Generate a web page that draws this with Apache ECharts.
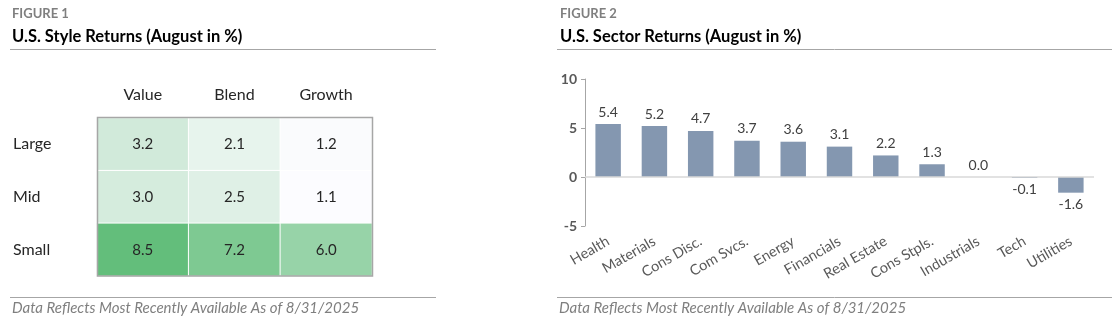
<!DOCTYPE html>
<html>
<head>
<meta charset="utf-8">
<script src="https://cdn.jsdelivr.net/npm/echarts@6/dist/echarts.min.js"></script>
<style>
  html, body { margin: 0; padding: 0; background: #ffffff; }
  #chart { width: 1120px; height: 326px; }
</style>
</head>
<body>
<div id="chart"></div>
<script>
// Figure 1: style box returns
const styleColumns = ['Value', 'Blend', 'Growth'];
const styleRows = ['Large', 'Mid', 'Small'];
const styleLarge = [3.2, 2.1, 1.2];
const styleMid = [3.0, 2.5, 1.1];
const styleSmall = [8.5, 7.2, 6.0];

// Figure 2: sector returns
const sectors = ['Health', 'Materials', 'Cons Disc.', 'Com Svcs.', 'Energy', 'Financials',
  'Real Estate', 'Cons Stpls.', 'Industrials', 'Tech', 'Utilities'];
const sectorReturns = [5.4, 5.2, 4.7, 3.7, 3.6, 3.1, 2.2, 1.3, 0.0, -0.1, -1.6];
const sectorTicks = { min: -5, max: 10, interval: 5 };

const footnote = 'Data Reflects Most Recently Available As of 8/31/2025';
const FONT = 'Lato, "DejaVu Sans", sans-serif';

const styleRowsValues = [styleLarge, styleMid, styleSmall];
const heatData = [];
styleRowsValues.forEach((row, r) => {
  row.forEach((v, c) => heatData.push([c, r, v]));
});
const allStyle = heatData.map(d => d[2]);

const barData = sectorReturns.map(v => ({
  value: v,
  label: { position: v < 0 ? 'bottom' : 'top' }
}));

const chart = echarts.init(document.getElementById('chart'), null, { renderer: 'canvas' });

const ruleColor = '#a6a6a6';
function rule(x1, x2, y) {
  return { type: 'line', z: 100, shape: { x1: x1, y1: y, x2: x2, y2: y },
    style: { stroke: ruleColor, lineWidth: 1 } };
}
function text(x, y, str, style) {
  return { type: 'text', z: 100, x: x, y: y,
    style: Object.assign({ text: str, fontFamily: FONT, verticalAlign: 'middle' }, style) };
}

chart.setOption({
  animation: false,
  textStyle: { fontFamily: FONT },
  grid: [
    { left: 97, right: 748, top: 118, bottom: 50 },
    { left: 585, right: 26, top: 79, bottom: 100 }
  ],
  xAxis: [
    {
      type: 'category', gridIndex: 0, data: styleColumns, position: 'top',
      axisLine: { show: false }, axisTick: { show: false }, splitLine: { show: false },
      axisLabel: { margin: 15, fontSize: 16, color: '#262626', fontFamily: FONT }
    },
    {
      type: 'category', gridIndex: 1, data: sectors,
      axisLine: { show: false, onZero: false }, axisTick: { show: false },
      axisLabel: { rotate: 30, margin: 14, fontSize: 14.5, color: '#595959', fontFamily: FONT, interval: 0 }
    }
  ],
  yAxis: [
    {
      type: 'category', gridIndex: 0, data: styleRows, inverse: true,
      axisLine: { show: false }, axisTick: { show: false }, splitLine: { show: false },
      axisLabel: { align: 'left', margin: 84, fontSize: 16, color: '#262626', fontFamily: FONT }
    },
    {
      type: 'value', gridIndex: 1, min: sectorTicks.min, max: sectorTicks.max, interval: sectorTicks.interval,
      axisLine: { show: true, lineStyle: { color: ruleColor } },
      axisTick: { show: true, length: 4, lineStyle: { color: ruleColor } },
      splitLine: { show: false },
      axisLabel: { fontSize: 14, fontWeight: 'bold', color: '#595959', margin: 8, fontFamily: FONT }
    }
  ],
  visualMap: {
    show: false, seriesIndex: 0, type: 'continuous',
    min: Math.min(...allStyle), max: Math.max(...allStyle),
    inRange: { color: ['#fcfcff', '#63be7b'] }
  },
  series: [
    {
      type: 'heatmap', xAxisIndex: 0, yAxisIndex: 0, data: heatData,
      itemStyle: { borderColor: '#ffffff', borderWidth: 1 },
      label: {
        show: true, fontSize: 15, color: '#262626', fontFamily: FONT,
        formatter: p => p.value[2].toFixed(1)
      },
      emphasis: { disabled: true }
    },
    {
      type: 'bar', xAxisIndex: 1, yAxisIndex: 1, data: barData, barWidth: '55%',
      itemStyle: { color: '#8497b0' },
      label: {
        show: true, fontSize: 14, color: '#404040', distance: 5, fontFamily: FONT,
        formatter: p => p.value.toFixed(1)
      },
      markLine: {
        silent: true, symbol: 'none', label: { show: false },
        lineStyle: { color: '#d9d9d9', type: 'solid', width: 1.5 },
        data: [{ yAxis: 0 }]
      }
    }
  ],
  graphic: [
    text(12, 14, 'FIGURE 1', { fontSize: 13, fontWeight: 'bold', fill: '#7f7f7f' }),
    text(12, 37, 'U.S. Style Returns (August in %)', { fontSize: 16.5, fontWeight: 'bold', fill: '#000000' }),
    rule(10, 436, 49.5),
    text(560, 14, 'FIGURE 2', { fontSize: 13, fontWeight: 'bold', fill: '#7f7f7f' }),
    text(560, 37, 'U.S. Sector Returns (August in %)', { fontSize: 16.5, fontWeight: 'bold', fill: '#000000' }),
    rule(557, 1112, 49.5),
    {
      type: 'rect', z: 100, shape: { x: 97.5, y: 117.5, width: 275, height: 158.5 },
      style: { fill: 'none', stroke: ruleColor, lineWidth: 1.5 }
    },
    rule(10, 436, 297.5),
    rule(557, 1112, 297.5),
    text(12, 308, footnote, { fontSize: 15, fontStyle: 'italic', fill: '#7f7f7f' }),
    text(559, 308, footnote, { fontSize: 15, fontStyle: 'italic', fill: '#7f7f7f' })
  ]
});
</script>
</body>
</html>
